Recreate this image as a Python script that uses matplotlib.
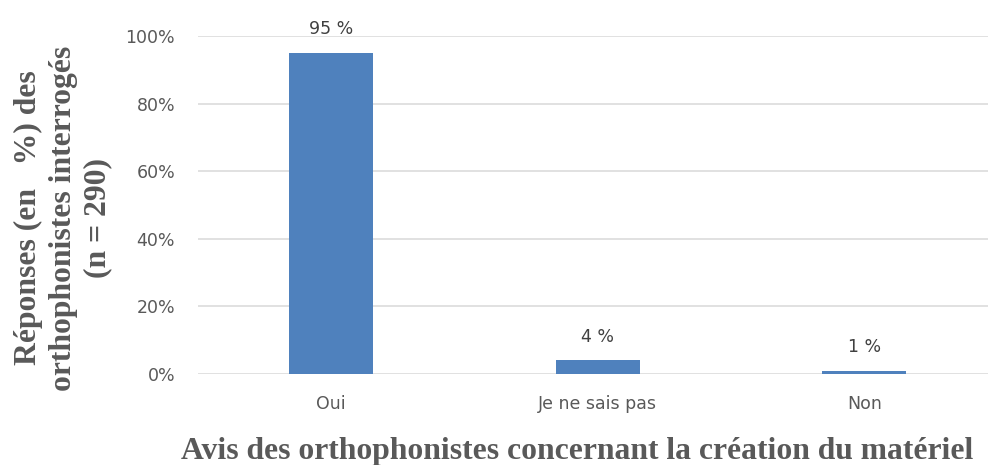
import matplotlib.pyplot as plt
from matplotlib.ticker import PercentFormatter

categories = ["Oui", "Je ne sais pas", "Non"]
values = [0.95, 0.04, 0.01]
value_labels = ["95 %", "4 %", "1 %"]
y_ticks = [0, 0.2, 0.4, 0.6, 0.8, 1.0]

grey = '#595959'
bar_color = '#4F81BD'

fig = plt.figure(figsize=(9.88, 4.65), dpi=100)
ax = fig.add_axes([198 / 988, 91 / 465, 790 / 988, 338 / 465])

x = range(len(categories))
bars = ax.bar(x, values, width=0.315, color=bar_color, zorder=3)

# data labels above each bar
for xi, v, lab in zip(x, values, value_labels):
    ax.annotate(lab, (xi, v), xytext=(0, 13.3), textcoords='offset points',
                ha='center', va='baseline', fontsize=12.5, color='#404040',
                annotation_clip=False)

ax.set_xlim(-0.5, 2.464)
ax.set_ylim(0, 1.0)
ax.set_yticks(y_ticks)
ax.yaxis.set_major_formatter(PercentFormatter(1.0, decimals=0))
ax.set_xticks(list(x))
ax.set_xticklabels(categories)

ax.grid(axis='y', color='#d9d9d9', linewidth=1.1, zorder=0)
for s in ax.spines.values():
    s.set_visible(False)
ax.tick_params(axis='both', length=0, labelsize=12.5, labelcolor=grey)
ax.tick_params(axis='y', pad=16.5)
ax.tick_params(axis='x', pad=15)

# axis titles (bold serif)
fig.text(63 / 988, 1 - 218 / 465,
         "Réponses (en   %) des\northophonistes interrogés\n(n = 290)",
         rotation=90, ha='center', va='center', multialignment='center',
         family='Liberation Serif', fontweight='bold', fontsize=22.8,
         color=grey, linespacing=1.24)
fig.text(577 / 988, 6 / 465,
         "Avis des orthophonistes concernant la création du matériel",
         ha='center', va='baseline', family='Liberation Serif',
         fontweight='bold', fontsize=22.8, color=grey)

fig.savefig('out.png', dpi=100)
